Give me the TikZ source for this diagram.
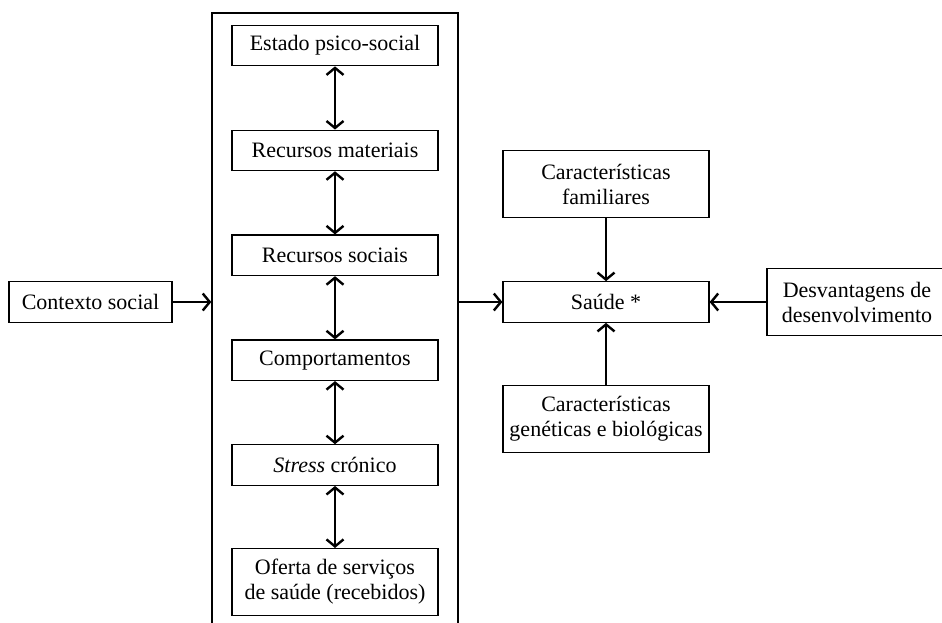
\documentclass[tikz,border=0pt]{standalone}
\usepackage{fontspec}
\setmainfont{Liberation Serif}
\usetikzlibrary{positioning,arrows.meta}

\begin{document}
\begin{tikzpicture}[
  x=1pt, y=-1pt,
  node distance=63.2pt,
  box/.style={minimum width=206pt, minimum height=40.5pt, inner sep=0pt, draw, line width=1.2pt,
    align=center, font=\fontsize{22}{25}\selectfont},
  tallbox/.style={box, minimum height=67pt},
  link/.style={line width=2.4pt},
  >={Straight Barb[length=7pt,width=17pt]}
]
  \useasboundingbox (0,0) rectangle (942,622);

  \node[draw, line width=1.4pt, minimum width=246pt, minimum height=660pt, inner sep=0pt] (frame) at (335,343) {};

  \node[box] (estado) at (335,45.5) {Estado psico-social};
  \node[box, below=of estado] (materiais) {Recursos materiais};
  \node[box, below=of materiais] (sociais) {Recursos sociais};
  \node[box, below=of sociais] (comport) {Comportamentos};
  \node[box, below=of comport] (stress) {\textit{Stress} crónico};
  \node[tallbox, below=62pt of stress] (oferta) {Oferta de serviços\\de saúde (recebidos)};

  \node[box, minimum width=163pt] (contexto) at (90.5,302) {Contexto social};
  \node[box] (saude) at (606,302) {Saúde *};
  \node[tallbox, above=63pt of saude] (familiar) {Características\\familiares};
  \node[tallbox, below=62pt of saude] (genetica) {Características\\genéticas e biológicas};
  \node[tallbox, minimum width=180pt] (desvant) at (857,302) {Desvantagens de\\desenvolvimento};

  \foreach \a/\b in {estado/materiais, materiais/sociais, sociais/comport, comport/stress, stress/oferta}
    \draw[link,<->] (\a) -- (\b);

  \draw[link,->] (contexto) -- (contexto -| frame.west);
  \draw[link,->] (frame.east |- saude) -- (saude);
  \draw[link,->] (familiar) -- (saude);
  \draw[link,->] (genetica) -- (saude);
  \draw[link,->] (desvant) -- (saude);

\end{tikzpicture}
\end{document}
